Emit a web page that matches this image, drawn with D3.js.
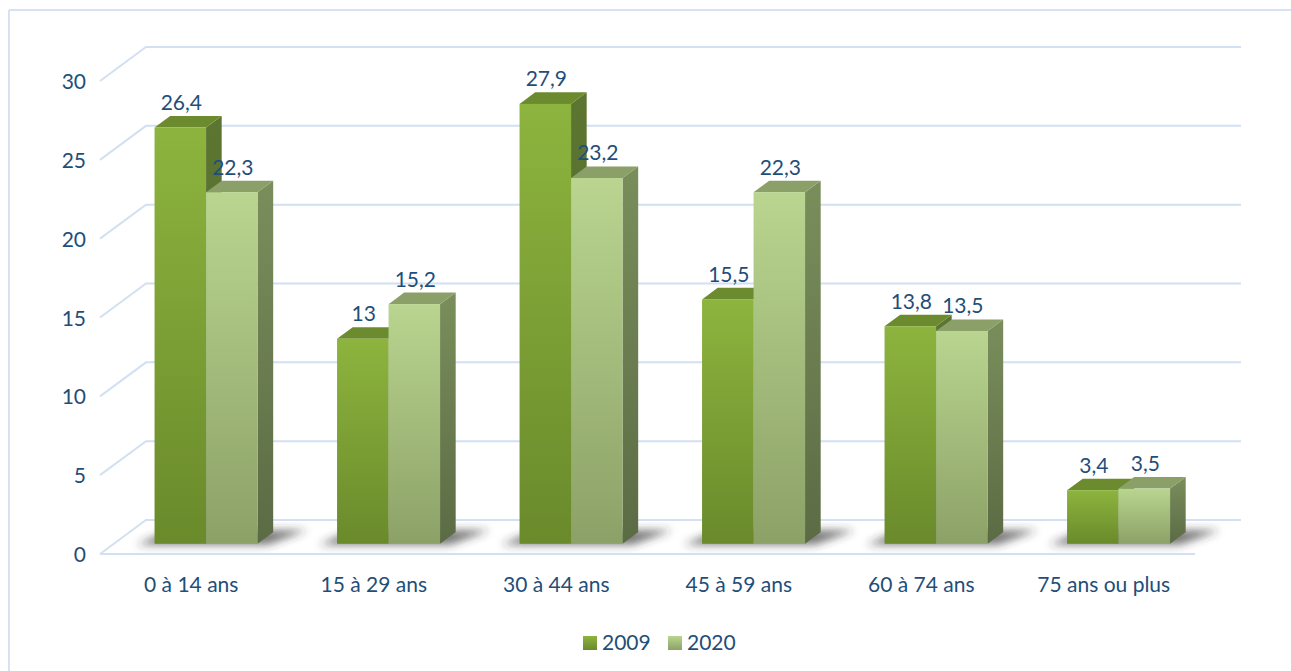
<!DOCTYPE html>
<html>
<head>
<meta charset="utf-8">
<script src="https://cdn.jsdelivr.net/npm/d3@7"></script>
<style>
  body { margin: 0; background: #fff; }
  svg { display: block; }
  text { font-family: Lato, "Open Sans", sans-serif; fill: #1f4e79; }
</style>
</head>
<body>
<svg id="chart" width="1291" height="671"></svg>
<script>
// Population by age group (%), 2009 vs 2020
const categories = ["0 à 14 ans", "15 à 29 ans", "30 à 44 ans", "45 à 59 ans", "60 à 74 ans", "75 ans ou plus"];
const series = ["2009", "2020"];
const values2009 = [26.4, 13, 27.9, 15.5, 13.8, 3.4];
const values2020 = [22.3, 15.2, 23.2, 22.3, 13.5, 3.5];
const yTicks = [0, 5, 10, 15, 20, 25, 30];

const seriesValues = { "2009": values2009, "2020": values2020 };
const fmt = v => String(v).replace(".", ",");
const FS = 21;

const svg = d3.select("#chart");
const defs = svg.append("defs");

// oblique projection: depth z in [0,1] shifts right and up
const DX = 46, DY = 34;
const Z0 = 0.30, Z1 = 0.64;

const y = d3.scaleLinear().domain([0, 30]).range([554, 81]);
const x = d3.scaleBand().domain(categories).range([100, 1195]);
const xs = d3.scaleBand().domain(series).range([0, 103]);
const groupPad = (x.bandwidth() - 103) / 2 + 1;

const P = (px, py, z) => [px + z * DX, py - z * DY];

// colour palette per series
const palette = {
  "2009": { frontTop: "#8db43e", frontBot: "#6a8a2b", sideTop: "#5c7531", sideBot: "#526a2c", top: "#6c8b2e" },
  "2020": { frontTop: "#b9d58f", frontBot: "#8ca167", sideTop: "#7a8e5c", sideBot: "#5b6b44", top: "#8b9f69" }
};

function vGrad(id, c1, c2) {
  const g = defs.append("linearGradient").attr("id", id)
    .attr("x1", 0).attr("y1", 0).attr("x2", 0).attr("y2", 1);
  g.append("stop").attr("offset", "0%").attr("stop-color", c1);
  g.append("stop").attr("offset", "100%").attr("stop-color", c2);
}
series.forEach(s => {
  vGrad("front" + s, palette[s].frontTop, palette[s].frontBot);
  vGrad("side" + s, palette[s].sideTop, palette[s].sideBot);
});

const blur = defs.append("filter").attr("id", "shadowBlur")
  .attr("x", "-50%").attr("y", "-50%").attr("width", "200%").attr("height", "200%");
blur.append("feGaussianBlur").attr("stdDeviation", 4);

// outer frame
svg.append("line").attr("x1", 9).attr("y1", 10).attr("x2", 9).attr("y2", 671)
  .attr("stroke", "#d6e2f2").attr("stroke-width", 2);
svg.append("line").attr("x1", 9).attr("y1", 10).attr("x2", 1291).attr("y2", 10)
  .attr("stroke", "#d6e2f2").attr("stroke-width", 2);

// back-wall gridlines with their diagonal side-wall segments
const grid = svg.append("g").attr("stroke", "#d3e0f2").attr("stroke-width", 2).attr("fill", "none");
yTicks.forEach(t => {
  const a = P(x.range()[0], y(t), 0), b = P(x.range()[0], y(t), 1), c = P(x.range()[1], y(t), 1);
  grid.append("path").attr("d", d3.line()([a, b, c]));
});
// floor front edge
grid.append("line")
  .attr("x1", x.range()[0]).attr("y1", y(0))
  .attr("x2", x.range()[1]).attr("y2", y(0));

// y axis labels
svg.append("g").selectAll("text").data(yTicks).join("text")
  .attr("x", 86).attr("y", d => y(d) + 8)
  .attr("text-anchor", "end").attr("font-size", FS)
  .text(d => d);

// category labels
svg.append("g").selectAll("text").data(categories).join("text")
  .attr("x", d => x(d) + x.bandwidth() / 2).attr("y", 592)
  .attr("text-anchor", "middle").attr("font-size", FS)
  .text(d => d);

// soft shadows under each group
const shadows = svg.append("g").attr("filter", "url(#shadowBlur)");
categories.forEach(c => {
  const gx0 = x(c) + groupPad, gx1 = gx0 + 103, y0 = y(0);
  const pts = [
    P(gx0 - 18, y0 + 1, Z0),
    P(gx1 + 10, y0 + 1, Z0),
    P(gx1 + 34, y0 - 2, Z1),
    P(gx0, y0 - 2, Z1)
  ];
  shadows.append("path").attr("d", d3.line()(pts) + "Z")
    .attr("fill", "#2e2e2e").attr("opacity", 0.65);
});

// 3D bars
const bars = svg.append("g");
categories.forEach((c, i) => {
  series.forEach(s => {
    const v = seriesValues[s][i];
    const x0 = x(c) + groupPad + xs(s), x1 = x0 + xs.bandwidth();
    const yb = y(0), yt = y(v);
    const g = bars.append("g");
    // side face
    g.append("path")
      .attr("d", d3.line()([P(x1, yt, Z0), P(x1, yt, Z1), P(x1, yb, Z1), P(x1, yb, Z0)]) + "Z")
      .attr("fill", `url(#side${s})`);
    // top face
    g.append("path")
      .attr("d", d3.line()([P(x0, yt, Z0), P(x0, yt, Z1), P(x1, yt, Z1), P(x1, yt, Z0)]) + "Z")
      .attr("fill", palette[s].top);
    // front face
    const f0 = P(x0, yt, Z0), f1 = P(x1, yb, Z0);
    g.append("rect")
      .attr("x", f0[0]).attr("y", f0[1])
      .attr("width", f1[0] - f0[0]).attr("height", f1[1] - f0[1])
      .attr("fill", `url(#front${s})`);
  });
});

// value labels
const labels = svg.append("g");
categories.forEach((c, i) => {
  series.forEach(s => {
    const v = seriesValues[s][i];
    const x0 = x(c) + groupPad + xs(s);
    const topBack = P(x0, y(v), Z1);
    labels.append("text")
      .attr("x", x0 + Z0 * DX + xs.bandwidth() / 2 + 1)
      .attr("y", topBack[1] - 6)
      .attr("text-anchor", "middle").attr("font-size", FS)
      .text(fmt(v));
  });
});

// legend
const legend = svg.append("g");
const legendX = { "2009": 583, "2020": 668 };
series.forEach(s => {
  legend.append("rect").attr("x", legendX[s]).attr("y", 636)
    .attr("width", 14).attr("height", 14).attr("fill", `url(#front${s})`);
  legend.append("text").attr("x", legendX[s] + 19).attr("y", 650)
    .attr("font-size", FS).text(s);
});
</script>
</body>
</html>
